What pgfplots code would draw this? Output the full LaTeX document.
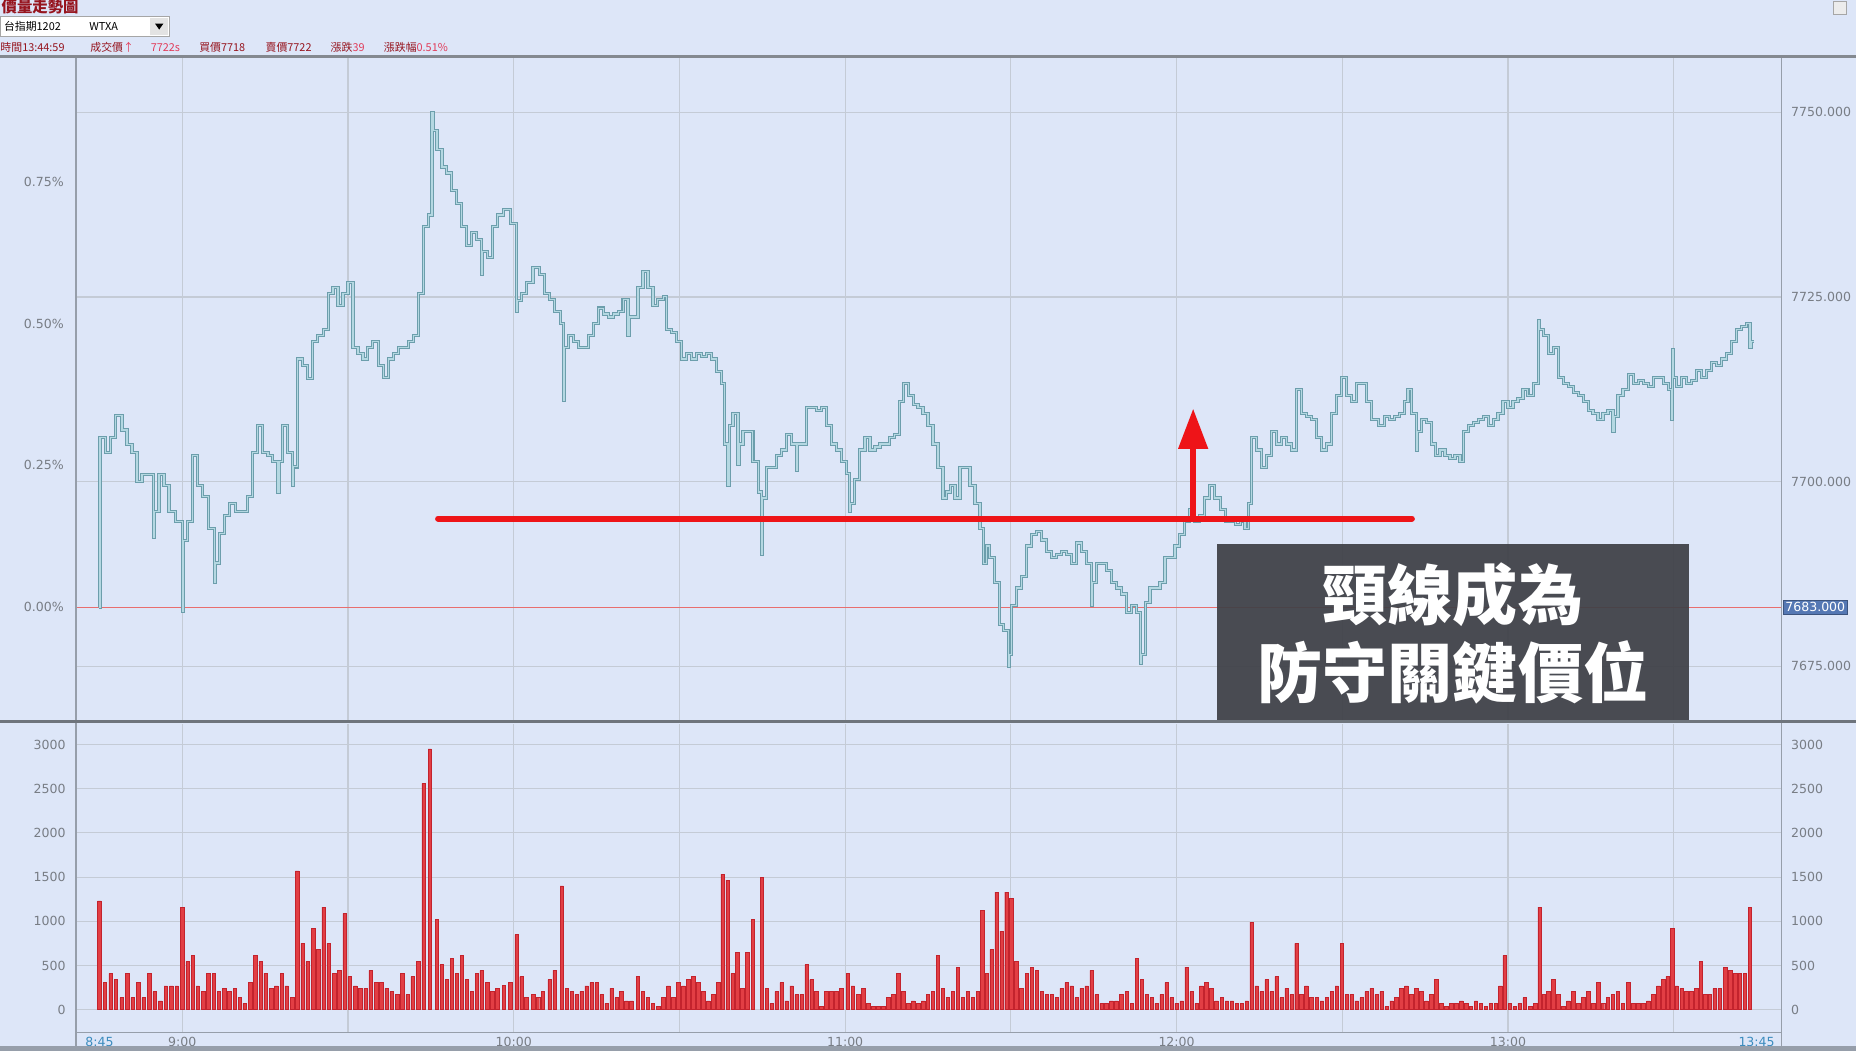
\documentclass[border=0pt]{standalone}
\usepackage{fontspec}
\setmainfont{DejaVu Sans}
\newfontfamily\cjk{Noto Sans CJK TC}
\usepackage{pgfplots}
\pgfplotsset{compat=1.18}
\usepackage{pgfplotstable}
\usetikzlibrary{arrows.meta}

\definecolor{bg}{RGB}{221,230,248}
\definecolor{gridc}{RGB}{196,203,214}
\definecolor{axisc}{RGB}{150,158,170}
\definecolor{sepc}{RGB}{110,116,124}
\definecolor{labc}{RGB}{120,125,133}
\definecolor{tealD}{RGB}{108,158,172}
\definecolor{tealL}{RGB}{180,216,226}
\definecolor{barF}{RGB}{226,62,68}
\definecolor{barD}{RGB}{195,35,45}
\definecolor{zeroR}{RGB}{232,110,110}
\definecolor{neckR}{RGB}{238,20,24}
\definecolor{boxc}{RGB}{62,64,70}
\definecolor{blab}{RGB}{60,140,190}
\definecolor{hdrR}{RGB}{150,20,30}
\definecolor{hdrP}{RGB}{225,60,90}
\definecolor{curbox}{RGB}{85,120,180}

\pgfplotstableread{
t d
0 0
0.1 23
1.06 21
1.97 23
2.88 26
4.1 24
5.0 22
5.9 21
6.8 17
7.7 18
8.9 18
9.85 9.5
10.0 13
10.8 18
11.7 16.5
12.6 13
13.8 11.6
15.0 -0.5
15.2 9
15.9 11.6
16.8 20.5
17.7 16.5
18.6 15
19.8 10.7
20.8 3.4
21.0 6
21.7 10
22.6 12.4
23.5 14
24.7 13
25.9 13
26.8 15
27.7 21
28.6 24.6
29.5 21
30.5 20.5
31.4 19.7
32.3 15.6
32.5 19.7
33.2 24.6
34.1 21
35.0 16.5
35.2 19
35.9 33.6
36.8 32.7
37.7 31
38.6 36
39.5 36.8
40.5 37.6
41.4 42.5
42.3 43.3
43.2 40.9
44.1 42.5
45.0 44
45.9 35.2
46.8 34.4
47.7 33.6
48.6 35.2
49.5 36
50.5 32.7
51.4 31.1
52.3 33.6
53.2 34.4
54.1 35.2
55.0 35.2
55.9 36
56.8 36.8
57.7 42.5
58.6 51.5
59.5 53.1
60.2 67
60.4 64.5
61.1 62
62.0 59.6
62.9 58.8
63.8 56.4
64.7 54.7
65.6 51.5
66.5 49
67.4 50.7
68.3 49.8
69.2 45
69.4 48.2
70.2 47.4
71.1 51.5
72.0 53.1
73.2 53.9
74.4 52
75.5 40
75.7 41.5
76.4 42.5
77.3 44
78.5 46
79.7 45
80.6 42.5
81.5 41.7
82.4 40
83.4 38.4
84.0 28
84.2 35.2
84.9 36.8
85.8 36
86.7 35.2
87.6 35.2
88.5 36.8
89.4 38.4
90.3 40.5
91.2 39.7
92.1 39.3
93.0 39.7
93.9 40
94.8 41.7
95.7 36.8
95.9 39.3
96.6 39.3
97.5 43.3
98.4 45.4
99.3 43.3
100.2 40.9
101.1 41.7
102.1 42.1
102.7 37.6
103.6 37.2
104.5 36
105.4 33.6
106.3 34.4
107.2 33.6
108.1 34.4
109.0 34
109.9 34.4
110.8 33.6
111.7 31.9
112.6 30.3
113.2 22.1
113.8 16.5
114.0 24.6
114.7 26.2
115.6 19.3
115.8 22.1
116.5 23.8
117.4 23.8
118.3 19.7
119.3 15.6
119.9 7.1
120.1 14.8
120.8 18.9
121.7 18.9
122.6 20.5
123.5 21.3
124.4 23.4
125.3 22.1
126.2 18.5
126.4 22.1
127.1 22.1
128.0 27
128.9 27
129.8 26.6
130.7 27
131.6 24.6
132.5 22.1
133.4 21.3
134.3 19.7
135.2 18.1
135.8 13
136.0 14
136.7 17.3
137.6 21.3
138.6 23
139.5 21.3
140.4 21.7
141.3 22.1
142.2 22.1
143.1 23
144.0 23.4
144.9 27.9
145.5 30.3
146.4 28.7
147.3 27.4
148.2 27
149.1 26.2
150.0 24.6
150.9 22.1
151.8 18.9
152.7 14.8
153.4 15.6
154.0 16.5
154.9 14.8
155.8 18.9
156.7 18.9
157.6 16.5
158.5 14
159.4 10.7
160.0 5.9
160.6 8.3
161.2 6.7
162.1 3.4
163.0 -2.3
163.6 -3.1
164.5 -8
164.7 -6.4
165.1 0.2
166.0 2.6
166.9 4.2
167.9 8.3
168.8 9.9
169.7 10.3
170.6 9.1
171.5 7.5
172.4 6.7
173.3 7.1
174.2 7.5
175.1 7.1
176.0 5.9
176.9 8.7
177.8 7.5
178.7 5.9
179.6 0.2
179.8 3.4
180.5 5.9
181.4 5.9
182.3 5
183.2 3.4
184.1 2.6
185.0 1.8
186.0 -0.7
186.9 0.2
187.8 -0.7
188.4 -7.6
188.6 -6.4
189.3 0.6
190.2 2.6
191.1 2.6
192.0 3.4
192.9 6.7
193.8 6.7
194.7 8.3
195.6 9.9
196.5 11.6
197.4 13.2
198.3 11.6
199.2 12.4
200.1 14.8
201.0 16.5
201.9 14.8
202.9 13.2
203.8 11.6
204.7 11.6
205.6 11.2
206.5 11.6
207.4 10.7
208.0 14
208.6 23
209.5 21.3
210.4 18.9
211.3 20.5
212.2 23.8
213.1 22.1
214.0 23
214.9 22.1
215.8 21.3
216.7 29.5
217.6 26.2
218.5 25.8
219.4 25.4
220.4 23
221.3 21.3
222.2 22.1
223.1 26.2
224.0 28.7
224.9 31.1
225.8 28.7
226.7 27.9
227.6 30.3
228.5 30.3
229.4 27.9
230.3 25.4
231.5 24.6
232.7 25.8
233.6 25.4
234.5 25.8
235.4 26.2
236.3 27.9
236.9 29.5
237.5 26.2
238.4 21.3
238.6 23.8
239.3 25.4
240.2 25
241.2 22.1
241.8 20.5
242.7 21.3
243.6 20.5
244.5 20.1
245.4 20.5
246.3 19.7
246.9 23.8
247.8 24.6
248.7 25
249.6 25.4
250.5 25.8
251.4 24.6
252.3 25.4
253.2 26.2
254.1 27.9
255.0 27
255.9 27.9
256.8 28.3
257.7 29.5
258.6 28.7
259.6 30.3
260.5 38.8
260.7 37.6
261.4 36.8
262.3 34.4
263.2 35.2
264.1 31.1
265.0 30.3
265.9 29.9
266.8 29.1
267.7 28.7
268.6 27.9
269.5 26.6
270.4 26.2
271.3 25.4
272.2 26.2
273.1 26.6
274.0 23.8
274.2 25.8
274.9 28.7
275.8 29.5
276.8 31.5
277.7 30.3
278.6 30.7
279.5 30.3
280.4 29.9
281.3 31.1
282.2 31.1
283.1 30.3
284.0 29.5
284.6 25.4
284.8 34.9
285.0 31.1
285.5 29.9
286.4 31.1
287.3 30.3
288.2 30.7
289.1 32
290.0 31.1
290.9 32
291.8 33.1
292.7 32.7
293.7 33.6
294.6 34.4
295.5 36
296.4 37.6
297.3 38
298.2 38.4
298.8 35.2
299.0 36
299.5 36
}\pricetab

\pgfplotstableread{
t v
0 1230
1 307
2 410
3 340
4 136
5 410
6 136
7 307
8 136
9 410
10 205
11 100
12 270
13 270
14 270
15 1160
15.95 545
16.9 615
17.8 270
18.8 205
19.7 410
20.7 410
21.6 205
22.6 240
23.5 205
24.5 240
25.4 136
26.3 70
27.3 307
28.2 615
29.2 545
30.1 410
31.1 240
32.0 270
33.0 410
33.9 270
34.9 136
35.8 1570
36.8 750
37.7 545
38.7 920
39.6 680
40.6 1160
41.5 750
42.5 410
43.4 445
44.4 1090
45.3 375
46.3 270
47.2 240
48.2 240
49.1 445
50.1 307
51.0 307
52.0 240
52.9 205
53.9 170
54.8 410
55.8 170
56.7 375
57.7 545
58.7 2560
59.8 2950
61.1 1023
62.0 511
62.9 341
63.8 580
64.7 410
65.6 614
66.5 341
67.4 205
68.3 410
69.2 443
70.2 307
71.1 205
72.0 240
73.2 273
74.4 307
75.5 850
76.4 375
77.3 136
78.5 170
79.4 136
80.3 205
81.5 340
82.4 445
83.7 1400
84.6 240
85.5 205
86.4 170
87.3 205
88.2 270
89.1 307
90.0 307
90.9 170
91.8 70
92.7 240
93.6 136
94.5 205
95.4 100
96.3 100
97.5 375
98.4 205
99.3 136
100.2 70
101.2 35
102.1 136
103.0 270
103.9 136
104.8 307
105.7 270
106.6 340
107.5 375
108.4 307
109.3 205
110.2 100
111.1 170
112.0 307
112.8 1535
113.7 1466
114.6 410
115.5 650
116.4 240
117.3 650
118.3 1023
119.9 1500
120.8 240
121.7 70
122.6 205
123.5 307
124.4 100
125.3 270
126.2 170
127.1 170
128.0 510
128.9 340
129.8 205
130.7 35
131.6 205
132.5 205
133.4 205
134.3 240
135.5 410
136.4 270
137.4 170
138.3 240
139.2 70
140.1 35
141.0 35
141.9 35
142.8 136
143.7 170
144.6 410
145.5 205
146.4 70
147.3 100
148.2 70
149.1 100
150.0 170
150.9 205
151.8 615
152.7 240
153.6 136
154.5 205
155.4 480
156.3 136
157.2 205
158.1 136
159.0 205
159.8 1125
160.6 410
161.5 680
162.4 1330
163.3 890
164.2 1330
165.1 1260
166.0 545
166.9 240
167.9 410
168.8 480
169.7 445
170.6 205
171.5 170
172.4 170
173.3 136
174.2 240
175.1 307
176.0 270
176.9 136
177.8 240
178.7 270
179.6 445
180.5 170
181.4 70
182.3 70
183.2 100
184.1 100
185.0 170
186.0 205
186.9 70
187.8 580
188.7 340
189.6 170
190.5 136
191.4 70
192.3 170
193.2 307
194.1 136
195.0 70
195.9 100
196.8 480
197.7 205
198.6 70
199.5 270
200.4 307
201.3 240
202.2 100
203.2 136
204.1 100
205.0 100
205.9 70
206.8 70
207.7 100
208.6 990
209.5 270
210.4 205
211.3 340
212.2 205
213.1 375
214.0 136
214.9 240
215.8 170
216.7 750
217.6 170
218.5 270
219.4 136
220.4 136
221.3 100
222.2 136
223.1 205
224.0 270
224.9 750
225.8 170
226.7 170
227.6 100
228.5 136
229.4 205
230.3 240
231.2 170
232.1 205
233.0 35
233.9 100
234.8 136
235.7 240
236.6 270
237.5 170
238.4 240
239.3 205
240.2 100
241.1 170
242.0 340
242.9 70
243.8 35
244.7 70
245.6 70
246.5 100
247.4 70
248.3 35
249.2 100
250.1 70
251.0 35
251.9 70
252.8 70
253.6 270
254.4 615
255.3 70
256.2 35
257.1 70
258.0 136
259.0 35
259.9 70
260.7 1160
261.5 170
262.3 205
263.2 340
264.1 170
265.0 35
265.9 100
266.8 205
267.7 70
268.6 136
269.5 205
270.4 70
271.3 307
272.2 70
273.1 136
274.0 170
274.9 205
275.8 70
276.8 307
277.7 70
278.6 70
279.5 70
280.4 100
281.3 170
282.2 270
283.1 340
283.9 375
284.7 920
285.5 270
286.4 240
287.3 205
288.2 205
289.1 240
289.9 545
290.7 170
291.5 170
292.4 240
293.3 240
294.3 480
295.2 445
296.1 410
297.0 410
297.9 410
298.8 1160
}\voltab

\pgfplotsset{
  base/.style={
    anchor=south west, scale only axis, width=720.5pt,
    xmin=-4.286, xmax=304.5,
    axis line style={draw=none}, major tick length=0pt,
    tick label style={font=\fontsize{5.3}{6}\selectfont, text=labc},
    /pgf/number format/assume math mode=true,
    /pgf/number format/1000 sep={},
  },
  upper/.style={base, at={(32pt,139.5pt)}, height=280.5pt, ymin=-15.38, ymax=74.52},
  lower/.style={base, at={(32pt,8pt)}, height=130pt, ymin=-254.5, ymax=3227.7},
}

\begin{document}
\begin{tikzpicture}
\begin{scope}[x=0.5pt,y=0.5pt]
\fill[bg] (0,0) rectangle (1568,888);
\end{scope}

% ---------- upper panel: price ----------
\begin{axis}[upper,
  xtick={15,45,...,285}, xticklabels={},
  ytick={-8,17,42,67}, yticklabels={7675.000,7700.000,7725.000,7750.000},
  yticklabel pos=right,
  yticklabel style={anchor=west, xshift=0.6pt},
  grid=major, grid style={gridc, line width=0.45pt},
]
\addplot[draw=zeroR, line width=0.5pt, forget plot] coordinates {(-4.286,0) (304.5,0)};
\addplot[const plot, draw=tealD, line width=1.35pt, line join=miter] table[x=t,y=d] {\pricetab};
\addplot[const plot, draw=tealL, line width=0.5pt] table[x=t,y=d] {\pricetab};
\addplot[draw=neckR, line width=2.5pt, line cap=round] coordinates {(61.3,12) (237.6,12)};
\draw[neckR, line width=2.6pt, -{Triangle[length=17pt,width=12pt]}] (axis cs:198,12) -- (axis cs:198,26.9);
\end{axis}

\begin{axis}[upper, hide x axis,
  ytick={0,19.21,38.42,57.62}, yticklabels={0.00\%,0.25\%,0.50\%,0.75\%},
  yticklabel pos=left, yticklabel style={anchor=east, xshift=-1.5pt},
]
\addplot[draw=none] coordinates {(0,0)};
\end{axis}

% ---------- lower panel: volume ----------
\begin{axis}[lower,
  xtick={15,45,...,285},
  xticklabels={9:00,,10:00,,11:00,,12:00,,13:00,},
  extra x ticks={0,300}, extra x tick labels={8:45,13:45},
  extra x tick style={grid=none, xticklabel style={text=blab}},
  xticklabel style={anchor=center, yshift=-4pt},
  ytick={0,500,...,3000},
  yticklabels={0,500,1000,1500,2000,2500,3000},
  yticklabel pos=right, yticklabel style={anchor=west, xshift=0.6pt},
  grid=major, grid style={gridc, line width=0.45pt},
]
\addplot[ybar, bar width=0.62, bar shift=0pt, fill=barF, draw=barD, line width=0.2pt] table[x=t,y=v] {\voltab};
\end{axis}

\begin{axis}[lower, hide x axis,
  ytick={0,500,...,3000},
  yticklabels={0,500,1000,1500,2000,2500,3000},
  yticklabel pos=left, yticklabel style={anchor=east, xshift=-0.8pt},
]
\addplot[draw=none] coordinates {(0,0)};
\end{axis}

% ---------- frame, header and annotations ----------
\begin{scope}[x=0.5pt,y=0.5pt]
\draw[axisc, line width=0.75pt] (64,840) -- (64,0);
\draw[axisc, line width=0.75pt] (1505,840) -- (1505,0);
\draw[sepc!85, line width=1.4pt] (0,840) -- (1568,840);
\draw[sepc, line width=1.5pt] (0,278.5) -- (1568,278.5);
\draw[axisc, line width=0.5pt] (64,16) -- (1505,16);
\fill[axisc] (0,0) rectangle (1568,4);

% header
\node[anchor=west, inner sep=0, text=hdrR, font=\cjk\bfseries\fontsize{6.5}{7}\selectfont] at (1,882) {價量走勢圖};
\draw[fill=white, draw=gray!70, line width=0.4pt] (0.5,857) rectangle (143,874);
\fill[gray!22] (127,858) rectangle (142,873);
\fill[black] (131,868) -- (138,868) -- (134.5,863) -- cycle;
\node[anchor=west, inner sep=0, font=\cjk\fontsize{4.6}{5}\selectfont] at (3,865.5) {台指期1202};
\node[anchor=west, inner sep=0, font=\cjk\fontsize{4.6}{5}\selectfont] at (75,865.5) {WTXA};
\begin{scope}[every node/.style={anchor=west, inner sep=0, font=\cjk\fontsize{4.6}{5}\selectfont}]
\node at (0,848) {\textcolor{hdrR}{時間13:44:59}};
\node at (76,848) {\textcolor{hdrR}{成交價}\textcolor{hdrP}{↑}};
\node at (127,848) {\textcolor{hdrP}{7722s}};
\node at (168,848) {\textcolor{hdrR}{買價7718}};
\node at (224,848) {\textcolor{hdrR}{賣價7722}};
\node at (279,848) {\textcolor{hdrR}{漲跌}\textcolor{hdrP}{39}};
\node at (324,848) {\textcolor{hdrR}{漲跌幅}\textcolor{hdrP}{0.51\%}};
\end{scope}
\draw[gray!70, line width=0.5pt, fill=gray!15] (1549,876) rectangle (1560,887);

% current price tag
\node[anchor=west, fill=curbox, draw=curbox!70!black, line width=0.3pt, text=white,
      inner xsep=1pt, inner ysep=0.9pt, font=\fontsize{5.3}{6}\selectfont] at (1506,375) {7683.000};

% annotation box
\fill[boxc, fill opacity=0.93] (1028,280) rectangle (1427,428);
\node[text=white, inner sep=0, font=\cjk\bfseries\fontsize{27.5}{30}\selectfont] at (1227.5,386) {頸線成為};
\node[text=white, inner sep=0, font=\cjk\bfseries\fontsize{27.5}{30}\selectfont] at (1227.5,320) {防守關鍵價位};
\end{scope}

\pgfresetboundingbox
\useasboundingbox (0,0) rectangle (784pt,444pt);
\end{tikzpicture}
\end{document}
